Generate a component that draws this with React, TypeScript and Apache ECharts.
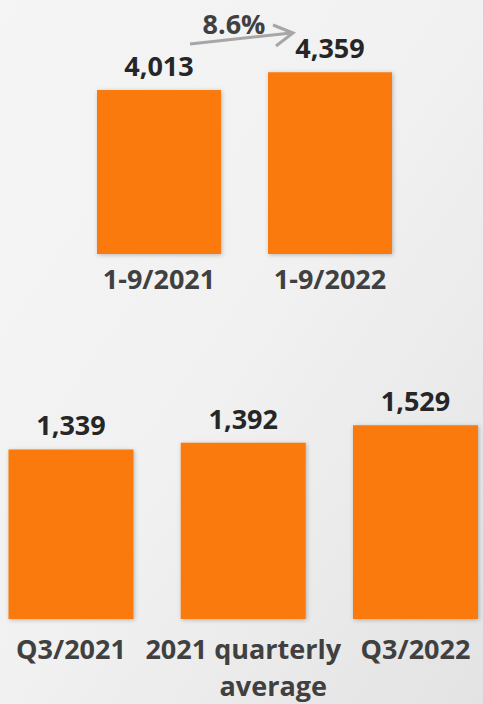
import React, { useEffect, useRef } from "react";
import * as echarts from "echarts";

const topCategories = ["1-9/2021", "1-9/2022"];
const topValues = [4013, 4359];
const bottomCategories = ["Q3/2021", "2021 quarterly average", "Q3/2022"];
const bottomValues = [1339, 1392, 1529];
const growthLabel = "8.6%";

const FONT = "'Open Sans', 'Noto Sans', sans-serif";
const BAR = "#FA7A0A";
const FS = 27;

export default function App() {
  const ref = useRef<HTMLDivElement>(null);
  useEffect(() => {
    if (!ref.current) return;
    const chart = echarts.init(ref.current, undefined, { renderer: "svg" });
    const valueLabel = {
      show: true,
      position: "top",
      distance: 11,
      fontFamily: FONT,
      fontWeight: "bold",
      fontSize: FS,
      color: "#262626",
      formatter: (p: any) => p.value.toLocaleString("en-US"),
    };
    const barItem = {
      color: BAR,
      shadowBlur: 4,
      shadowColor: "rgba(0,0,0,0.25)",
      shadowOffsetX: 1,
      shadowOffsetY: 1,
    };
    const catLabel = {
      interval: 0,
      margin: 11,
      fontFamily: FONT,
      fontWeight: "bold",
      fontSize: FS,
      color: "#404040",
    };
    chart.setOption({
      animation: false,
      backgroundColor: {
        type: "linear",
        x: 0,
        y: 0,
        x2: 1,
        y2: 1,
        colorStops: [
          { offset: 0, color: "#f5f5f5" },
          { offset: 0.5, color: "#f1f1f1" },
          { offset: 1, color: "#e3e3e3" },
        ],
      },
      grid: [
        { left: 73.5, width: 342, top: 39.6, height: 214.4 },
        { left: 71, width: 344.5, top: 391, height: 238 },
      ],
      xAxis: [
        {
          type: "category",
          gridIndex: 0,
          data: topCategories,
          axisLine: { show: false },
          axisTick: { show: false },
          axisLabel: catLabel,
        },
        {
          type: "category",
          gridIndex: 1,
          boundaryGap: false,
          data: bottomCategories,
          axisLine: { show: false },
          axisTick: { show: false },
          axisLabel: {
            ...catLabel,
            lineHeight: 37,
            formatter: (v: string) =>
              v === "2021 quarterly average" ? "2021 quarterly\n{p|average}" : v,
            rich: {
              p: {
                fontFamily: FONT,
                fontWeight: "bold",
                fontSize: FS,
                color: "#404040",
                lineHeight: 37,
                padding: [0, 0, 0, 60],
              },
            },
          },
        },
      ],
      yAxis: [
        { type: "value", gridIndex: 0, min: 800, max: 5000, show: false },
        { type: "value", gridIndex: 1, min: 0, max: 1800, show: false },
      ],
      series: [
        {
          type: "bar",
          xAxisIndex: 0,
          yAxisIndex: 0,
          data: topValues,
          barWidth: 124,
          itemStyle: barItem,
          label: valueLabel,
        },
        {
          type: "bar",
          xAxisIndex: 1,
          yAxisIndex: 1,
          data: bottomValues,
          barWidth: 125,
          itemStyle: barItem,
          label: valueLabel,
        },
      ],
      graphic: [
        {
          type: "polyline",
          shape: { points: [[190, 44], [291, 33]] },
          style: { stroke: "#A6A6A6", lineWidth: 3, fill: null },
        },
        {
          type: "polyline",
          shape: { points: [[273, 25], [293, 33], [276, 46]] },
          style: { stroke: "#A6A6A6", lineWidth: 3, fill: null },
        },
        {
          type: "text",
          x: 234,
          y: 23,
          style: {
            text: growthLabel,
            fontFamily: FONT,
            fontWeight: "bold",
            fontSize: FS,
            fill: "#404040",
            align: "center",
            verticalAlign: "middle",
          },
        },
      ],
    });
    return () => chart.dispose();
  }, []);
  return (
    <div
      ref={ref}
      style={{ position: "fixed", left: 0, top: 0, width: 483, height: 704 }}
    />
  );
}
